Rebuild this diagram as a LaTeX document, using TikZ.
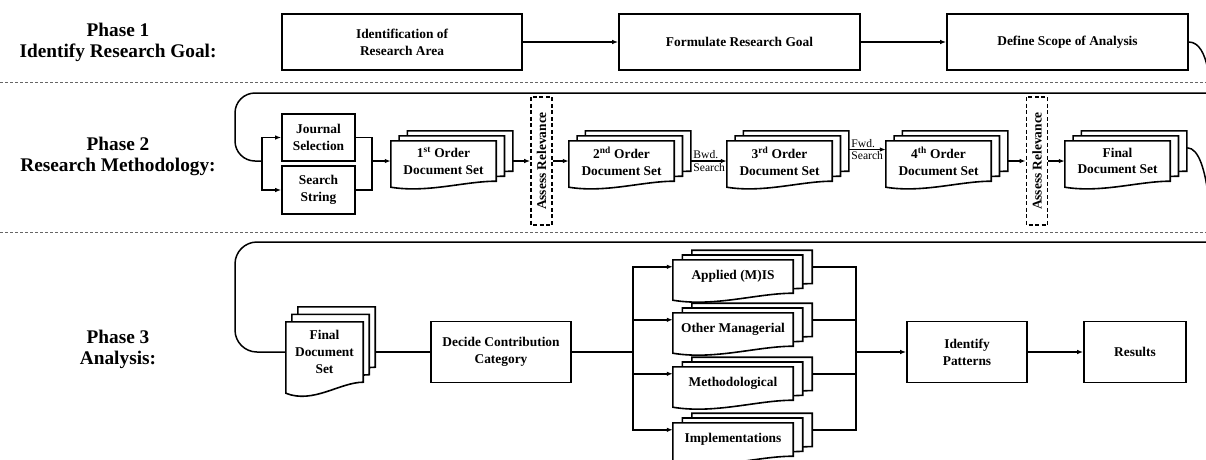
\documentclass[tikz,border=0pt]{standalone}
\usepackage{fontspec}
\setmainfont{Liberation Serif}
\usepackage{tikz}
\usetikzlibrary{arrows.meta,calc,backgrounds}

\newcommand{\boxfont}{\fontsize{13.4}{16.7}\selectfont\bfseries}
\newcommand{\phasefont}{\fontsize{19.3}{21}\selectfont\bfseries}
\newcommand{\lblfont}{\fontsize{11.6}{13}\selectfont}

% three stacked pages behind the front page node #1
% #2, #3 = offset of each page, #4 = depth of the wavy bottom
\newcommand{\docset}[4]{%
  \begin{scope}[on background layer]
  \foreach \k in {2,1,0}{
    \draw[line width=1.6pt, fill=white]
      ($(#1.north west)+(\k*#2,-\k*#3)$) -- ($(#1.north east)+(\k*#2,-\k*#3)$)
      -- ($(#1.south east)+(\k*#2,-\k*#3)$)
      .. controls ($(#1.south east)!0.3!(#1.south west)+(\k*#2,-\k*#3)$)
      and ($(#1.south east)!0.65!(#1.south west)+(\k*#2,-\k*#3)+(0,2*#4)$)
      .. ($(#1.south west)+(\k*#2,-\k*#3)+(0,#4)$) -- cycle;
  }
  \end{scope}
}

\tikzset{
  box/.style={draw, line width=1.6pt, align=center, inner sep=2pt, font=\boxfont},
  doc/.style={inner sep=0pt, align=center, font=\boxfont},
  assess/.style={draw, line width=1.6pt, dash pattern=on 4pt off 2.5pt, rotate=90,
    minimum width=128pt, minimum height=21pt, inner sep=0pt, font=\boxfont},
  phase/.style={align=center, font=\phasefont},
  lbl/.style={font=\lblfont, inner sep=1.5pt},
  line/.style={line width=1.5pt},
  arr/.style={line width=1.5pt, -{Latex[length=6pt,width=4.5pt]}},
  sep/.style={line width=1pt, draw=black!60, dash pattern=on 3pt off 2pt}
}

\begin{document}
\begin{tikzpicture}[x=1pt, y=-1pt]
	\useasboundingbox (0,0) rectangle (1206,459);

	% phase labels and separators
	\node[phase] (ph1) at (118,42.5) {Phase 1\\Identify Research Goal:};
	\node[phase] (ph2) at (118,156) {Phase 2\\Research Methodology:};
	\node[phase] (ph3) at (118,349.5) {Phase 3\\Analysis:};
	\draw[sep] (0,82) -- (1206,82);
	\draw[sep] (0,232) -- (1206,232);

	% phase 1
	\node[box, minimum width=240pt, minimum height=56pt] (area) at (402,42) {Identification of\\Research Area};
	\node[box, minimum width=241pt, minimum height=56pt] (goal) at (739.5,42) {Formulate Research Goal};
	\node[box, minimum width=241pt, minimum height=56pt] (scope) at (1067.5,42) {Define Scope of Analysis};
	\draw[arr] (area) -- (goal);
	\draw[arr] (goal) -- (scope);

	% phase 2
	\coordinate (split) at (262,161);
	\coordinate (merge1) at (372,161);
	\node[box, minimum width=73pt, minimum height=47pt] (journal) at (318.5,137.5) {Journal\\Selection};
	\node[box, minimum width=73pt, minimum height=48pt] (search) at (318.5,190) {Search\\String};
	\node[doc, minimum width=105pt, minimum height=40pt] (doc1) at (443.5,161) {1\textsuperscript{st} Order\\Document Set};
	\node[assess] (assess1) at (541.5,161) {Assess Relevance};
	\node[doc, minimum width=105pt, minimum height=40pt] (doc2) at (621.5,161) {2\textsuperscript{nd} Order\\Document Set};
	\node[doc, minimum width=105pt, minimum height=40pt] (doc3) at (779.5,161) {3\textsuperscript{rd} Order\\Document Set};
	\node[doc, minimum width=105pt, minimum height=40pt] (doc4) at (938.5,161) {4\textsuperscript{th} Order\\Document Set};
	\node[assess] (assess2) at (1037,161) {Assess Relevance};
	\node[doc, minimum width=105pt, minimum height=40pt] (fin2) at (1117.5,161) {Final\\Document Set};
	\foreach \d in {doc1,doc2,doc3,doc4,fin2}
		\docset{\d}{8.3}{5}{6};

	\draw[line, rounded corners=20pt] (scope.east) .. controls (1210,42) and (1210,93) .. (1191,93)
		-- (235,93) -- (235,161) -- (split);
	\draw[arr] (split) |- (journal);
	\draw[arr] (split) |- (search);
	\draw[line] (journal) -| (merge1);
	\draw[line] (search) -| (merge1);
	\draw[arr] (merge1) -- (doc1);
	\draw[arr] ($(doc1.east)+(17,0)$) -- (assess1);
	\draw[arr] (assess1) -- (doc2);
	\draw[arr] ($(doc2.east)+(17,0)$) -- node[lbl, pos=0, anchor=south west] (bwd) {Bwd.}
		node[lbl, pos=0, anchor=north west] (bwds) {Search} (doc3);
	\draw[arr] ($(doc3.east)+(17,-11.5)$) -- node[lbl, pos=0, anchor=south west] (fwd) {Fwd.}
		node[lbl, pos=0, anchor=north west] (fwds) {Search} ($(doc4.west)+(0,-11.5)$);
	\draw[arr] ($(doc4.east)+(17,0)$) -- (assess2);
	\draw[arr] (assess2) -- (fin2);

	% phase 3
	\coordinate (fin2out) at ($(fin2.north east)+(17,7)$);
	\coordinate (split3) at (633,352);
	\coordinate (merge3) at (856,352);
	\node[doc, minimum width=77pt, minimum height=60pt] (fin3) at (324.5,352) {Final\\Document\\Set};
	\docset{fin3}{6}{7.5}{11}
	\node[box, minimum width=140pt, minimum height=61pt] (decide) at (501,352) {Decide Contribution\\Category};
	\node[doc, minimum width=120pt, minimum height=33pt] (app) at (733,276.5) {Applied (M)IS};
	\node[doc, minimum width=120pt, minimum height=33pt] (oth) at (733,329.5) {Other Managerial};
	\node[doc, minimum width=120pt, minimum height=33pt] (meth) at (733,383.5) {Methodological};
	\node[doc, minimum width=120pt, minimum height=33pt] (impl) at (733,439.5) {Implementations};
	\foreach \c in {app,oth,meth,impl}
		\docset{\c}{9.5}{4.8}{7};
	\node[box, minimum width=120pt, minimum height=61pt] (ident) at (967,352) {Identify\\Patterns};
	\node[box, minimum width=102pt, minimum height=61pt] (res) at (1135,352) {Results};

	\draw[line, rounded corners=22pt] (fin2out) .. controls (1211,148) and (1211,242) .. (1190,242)
		-- (235,242) -- (235,352) -- (fin3.west);
	\draw[line] ($(fin3.east)+(12,0)$) -- (decide);
	\draw[line] (decide) -- (split3);
	\foreach \c in {app,oth,meth,impl}{
		\draw[arr] (split3) |- ($(\c.north west)+(0,7)$);
		\draw[line] ($(\c.north east)+(19,7)$) -| (merge3);
	}
	\draw[arr] (merge3) -- (ident);
	\draw[arr] (ident) -- (res);
\end{tikzpicture}
\end{document}
